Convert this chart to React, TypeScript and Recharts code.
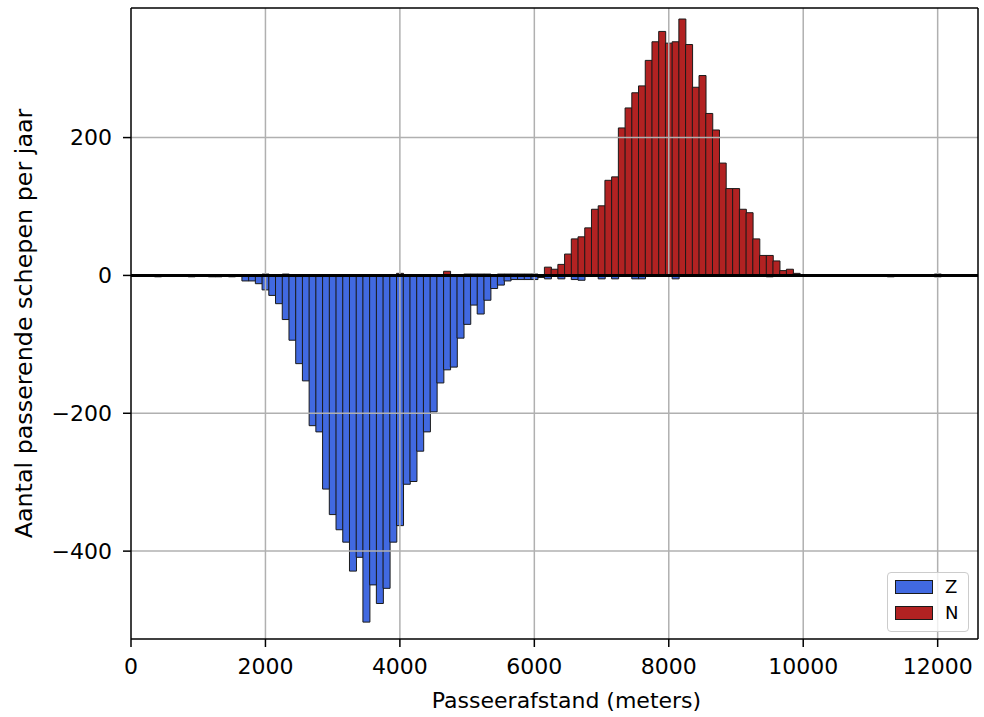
import React from 'react';
import {
  ComposedChart,
  Bar,
  XAxis,
  YAxis,
  ReferenceLine,
  Legend,
} from 'recharts';

// Histogram bins: 100 m wide, centred on 0, 100, 200, ... 12000 m.
const BIN_WIDTH = 100;

// Ships per year passing on the south side (drawn downward).
const zuid = [
  0, 0, 0, 0, -2, 0, 0, 0, 0, -2,
  0, 0, -2, -2, 0, -2, 0, -8, -8, -12,
  -21, -29, -41, -64, -94, -128, -153, -218, -227, -310,
  -347, -369, -387, -429, -409, -503, -449, -476, -454, -387,
  -363, -303, -299, -255, -227, -198, -156, -137, -133, -91,
  -71, -43, -56, -36, -19, -14, -8, -6, -6, -6,
  -6, -3, -5, 0, -5, 0, -6, -7, 0, 0,
  -5, 0, -5, 0, 0, -5, -5, 0, 0, 0,
  0, -5, 0, 0, 0, 0, 0, 0, 0, 0,
  0, 0, 0, 0, 0, -2, 0, 0, 0, 0,
  0, 0, 0, 0, 0, 0, 0, 0, 0, 0,
  0, 0, 0, -2, 0, 0, 0, 0, 0, 0,
  -2,
];

// Ships per year passing on the north side (drawn upward).
const noord = [
  0, 0, 0, 0, 0, 0, 0, 0, 0, 0,
  0, 0, 0, 0, 0, 0, 0, 0, 0, 0,
  2, 0, 0, 2, 0, 0, 0, 0, 0, 0,
  0, 0, 0, 0, 0, 0, 0, 0, 0, 0,
  3, 0, 0, 0, 0, 0, 0, 6, 0, 0,
  2, 2, 2, 2, 0, 2, 2, 2, 2, 2,
  2, 0, 12, 9, 16, 31, 53, 56, 69, 96,
  101, 138, 143, 214, 243, 265, 275, 312, 339, 354,
  337, 339, 372, 335, 273, 290, 235, 211, 163, 126,
  126, 96, 91, 53, 29, 29, 21, 7, 9, 3,
  0, 0, 0, 0, 0, 0, 0, 0, 0, 0,
  0, 0, 0, 0, 0, 0, 0, 0, 0, 0,
  2,
];

const xTicks = [0, 2000, 4000, 6000, 8000, 10000, 12000];
const yTicks = [-400, -200, 0, 200];
const xDomain: [number, number] = [0, 12600];
const yDomain: [number, number] = [-527.5, 388];

const seriesNames = { Z: 'Z', N: 'N' };
const colors = { Z: '#4169e1', N: '#b22222' };

const data = zuid.map((z, i) => ({ afstand: i * BIN_WIDTH, Z: z, N: noord[i] }));

const FONT = '"DejaVu Sans", "Liberation Sans", sans-serif';
const GRID = '#b0b0b0';

const fmt = (v: number) => String(v).replace('-', '\u2212');

const LegendBox = () => (
  <div
    style={{
      position: 'relative',
      width: 82,
      height: 60,
      boxSizing: 'border-box',
      border: '1px solid #cccccc',
      borderRadius: 4,
      background: 'rgba(255,255,255,0.8)',
      fontFamily: FONT,
      fontSize: 18,
      color: '#000',
    }}
  >
    {(['Z', 'N'] as const).map((k, i) => (
      <React.Fragment key={k}>
        <div
          style={{
            position: 'absolute',
            left: 7,
            top: 7 + i * 26,
            width: 38,
            height: 14,
            boxSizing: 'border-box',
            background: colors[k],
            border: '1px solid #1a1a1a',
          }}
        />
        <div
          style={{
            position: 'absolute',
            left: 57,
            top: 3 + i * 26,
            lineHeight: '22px',
          }}
        >
          {seriesNames[k]}
        </div>
      </React.Fragment>
    ))}
  </div>
);

const XLabel = (props: any) => {
  const vb = props.viewBox || { x: 0, y: 0, width: 0 };
  return (
    <text
      x={vb.x + vb.width / 2 + 12}
      y={vb.y + 69}
      textAnchor="middle"
      fontFamily={FONT}
      fontSize={22}
      fill="#000"
    >
      Passeerafstand (meters)
    </text>
  );
};

const YLabel = (props: any) => {
  const vb = props.viewBox || { x: 0, y: 0, height: 0 };
  const cx = vb.x + 32;
  const cy = vb.y + vb.height / 2;
  return (
    <text
      x={cx}
      y={cy}
      transform={`rotate(-90, ${cx}, ${cy})`}
      textAnchor="middle"
      fontFamily={FONT}
      fontSize={23.8}
      fill="#000"
    >
      Aantal passerende schepen per jaar
    </text>
  );
};

export default function App() {
  return (
    <div style={{ position: 'absolute', left: 0, top: 0, background: '#fff' }}>
      <ComposedChart
        width={984}
        height={717}
        data={data}
        stackOffset="sign"
        barCategoryGap={0}
        barGap={0}
        margin={{ top: 8, right: 6, bottom: 0, left: 0 }}
      >
        <XAxis
          dataKey="afstand"
          type="number"
          domain={xDomain}
          ticks={xTicks}
          allowDataOverflow
          height={78}
          tickSize={8}
          tickMargin={11}
          tick={{ fill: '#000', fontSize: 22, fontFamily: FONT }}
          tickLine={{ stroke: '#000', strokeWidth: 1.5 }}
          axisLine={{ stroke: '#000', strokeWidth: 1.5 }}
          tickFormatter={fmt}
          label={<XLabel />}
        />
        <YAxis
          type="number"
          domain={yDomain}
          ticks={yTicks}
          allowDataOverflow
          width={131}
          tickSize={8}
          tickMargin={11}
          tick={{ fill: '#000', fontSize: 22, fontFamily: FONT }}
          tickLine={{ stroke: '#000', strokeWidth: 1.5 }}
          axisLine={{ stroke: '#000', strokeWidth: 1.5 }}
          tickFormatter={fmt}
          label={<YLabel />}
        />
        <Bar
          dataKey="Z"
          name={seriesNames.Z}
          stackId="hist"
          fill={colors.Z}
          stroke="#1a1a1a"
          strokeWidth={1}
          isAnimationActive={false}
        />
        <Bar
          dataKey="N"
          name={seriesNames.N}
          stackId="hist"
          fill={colors.N}
          stroke="#1a1a1a"
          strokeWidth={1}
          isAnimationActive={false}
        />
        {xTicks.slice(1).map((t) => (
          <ReferenceLine key={`gx${t}`} x={t} stroke={GRID} strokeWidth={1.5} />
        ))}
        {yTicks.filter((t) => t !== 0).map((t) => (
          <ReferenceLine key={`gy${t}`} y={t} stroke={GRID} strokeWidth={1.5} />
        ))}
        <ReferenceLine y={0} stroke="#000" strokeWidth={3} />
        <ReferenceLine y={yDomain[1]} stroke="#000" strokeWidth={1.5} />
        <ReferenceLine x={xDomain[1]} stroke="#000" strokeWidth={1.5} />
        <Legend
          layout="vertical"
          align="center"
          verticalAlign="middle"
          width={82}
          height={60}
          wrapperStyle={{ left: 887, top: 572, width: 82, height: 60 }}
          content={<LegendBox />}
        />
      </ComposedChart>
    </div>
  );
}
